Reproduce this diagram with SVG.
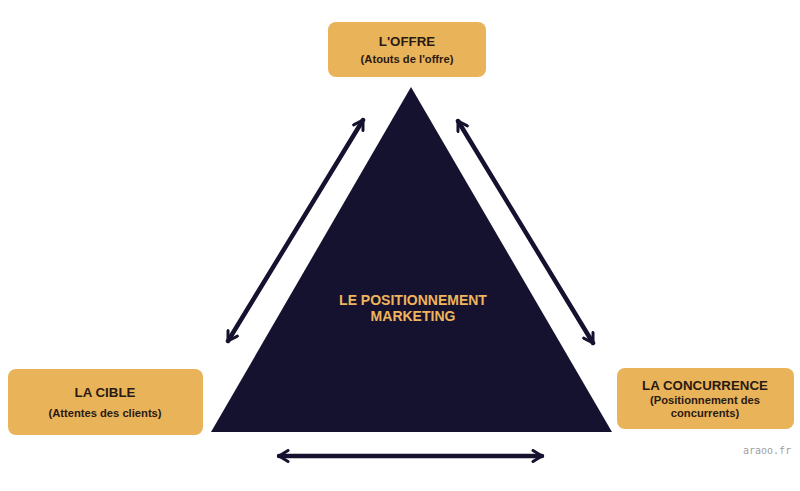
<svg xmlns="http://www.w3.org/2000/svg" width="800" height="491" viewBox="0 0 800 491">
  <style>
    .box { fill: #E9B35A; }
    .t1 { font-family: "Liberation Sans", Arial, sans-serif; font-weight: bold; font-size: 13.3px; fill: #2A1A12; text-anchor: middle; }
    .t2 { font-family: "Liberation Sans", Arial, sans-serif; font-weight: bold; font-size: 11.2px; fill: #2A1A12; text-anchor: middle; }
    .ctr { font-family: "Liberation Sans", Arial, sans-serif; font-weight: bold; font-size: 14px; fill: #F0B55C; text-anchor: middle; }
    .arr { stroke: #15122F; stroke-width: 4.5; fill: none; stroke-linecap: round; marker-start: url(#head); marker-end: url(#head); }
    .wm { font-family: "DejaVu Sans Mono", monospace; font-size: 10px; fill: #A0A0A0; }
  </style>
  <defs>
    <marker id="head" viewBox="0 0 14 14" refX="12" refY="7" markerWidth="14" markerHeight="14" markerUnits="userSpaceOnUse" orient="auto-start-reverse">
      <path d="M3,1.5 L12,7 L3,12.5" fill="none" stroke="#15122F" stroke-width="3" stroke-linecap="round" stroke-linejoin="round"/>
    </marker>
  </defs>
  <rect width="800" height="491" fill="#FFFFFF"/>
  <g id="triangle">
    <polygon points="411,87 211,432 612,432" fill="#15122F"/>
    <text class="ctr" x="413" y="305">LE POSITIONNEMENT</text>
    <text class="ctr" x="413" y="321">MARKETING</text>
  </g>
  <g id="connectors">
    <line class="arr" x1="228" y1="341" x2="363" y2="120"/>
    <line class="arr" x1="458" y1="121" x2="593" y2="343"/>
    <line class="arr" x1="279" y1="456" x2="542" y2="456"/>
  </g>
  <g id="offre">
    <rect class="box" x="328" y="22" width="158" height="55" rx="8"/>
    <text class="t1" x="407" y="46">L'OFFRE</text>
    <text class="t2" x="407" y="63">(Atouts de l'offre)</text>
  </g>
  <g id="cible">
    <rect class="box" x="8" y="369" width="195" height="66" rx="8"/>
    <text class="t1" x="105" y="397">LA CIBLE</text>
    <text class="t2" x="105" y="417">(Attentes des clients)</text>
  </g>
  <g id="concurrence">
    <rect class="box" x="617" y="368" width="177" height="61" rx="8"/>
    <text class="t1" x="705" y="390">LA CONCURRENCE</text>
    <text class="t2" x="705" y="404">(Positionnement des</text>
    <text class="t2" x="705" y="417">concurrents)</text>
  </g>
  <text class="wm" x="743" y="454">araoo.fr</text>
</svg>
